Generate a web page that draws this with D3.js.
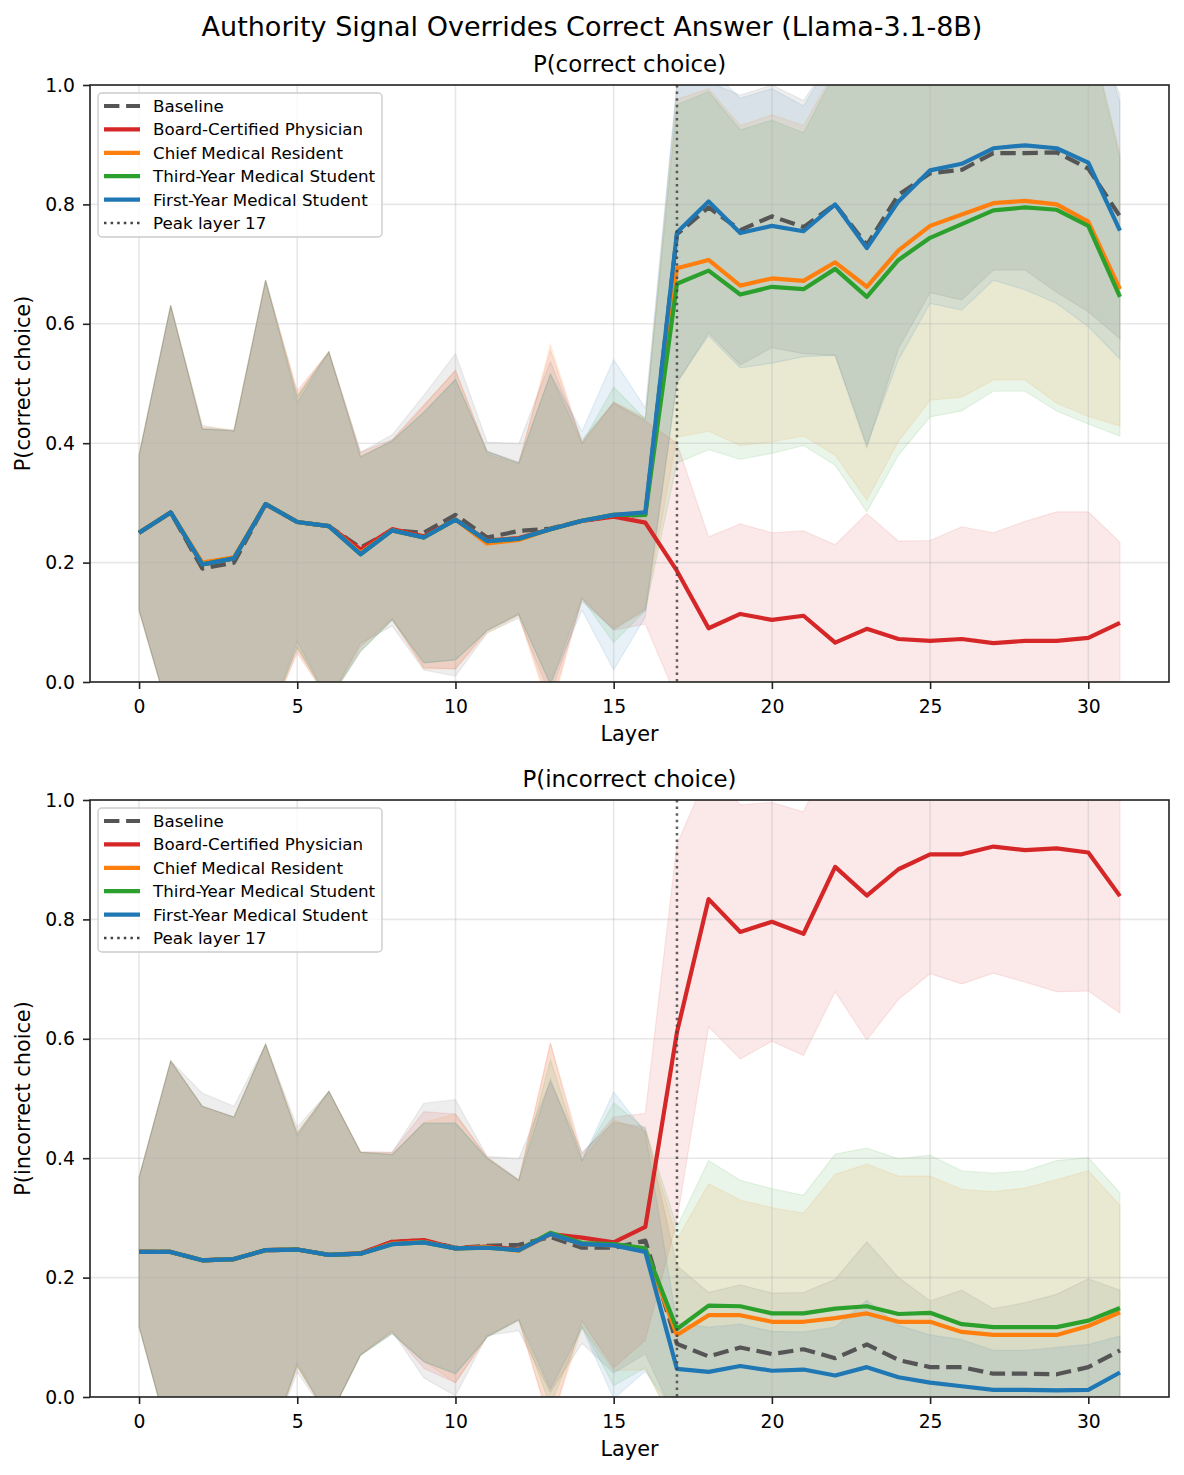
<!DOCTYPE html>
<html>
<head>
<meta charset="utf-8">
<script src="https://cdn.jsdelivr.net/npm/d3@7"></script>
<style>
  body { margin: 0; background: #fff; }
  text { font-family: "DejaVu Sans", sans-serif; fill: #000; }
</style>
</head>
<body>
<svg id="fig" width="1184" height="1475"></svg>
<script>
"use strict";

const layers = [0, 1, 2, 3, 4, 5, 6, 7, 8, 9, 10, 11, 12, 13, 14, 15,
  16, 17, 18, 19, 20, 21, 22, 23, 24, 25, 26, 27, 28, 29, 30, 31];
const xTicks = [0, 5, 10, 15, 20, 25, 30];
const yTicks = [0, 0.2, 0.4, 0.6, 0.8, 1.0];
const peakLayer = 17;

const seriesNames = ["Baseline", "Board-Certified Physician", "Chief Medical Resident",
  "Third-Year Medical Student", "First-Year Medical Student"];
const seriesColors = ["#555555", "#d62728", "#ff7f0e", "#2ca02c", "#1f77b4"];

// P(correct choice): mean and std per layer
const corrBaseline = [0.25, 0.284, 0.19, 0.2, 0.298, 0.268, 0.261, 0.225, 0.254, 0.25, 0.28, 0.242, 0.253, 0.257, 0.27, 0.278, 0.28,
  0.75, 0.795, 0.757, 0.78, 0.762, 0.80, 0.732, 0.816, 0.852, 0.858, 0.886, 0.886, 0.887, 0.86, 0.78];
const corrBaselineSd = [0.13, 0.347, 0.24, 0.22, 0.375, 0.21, 0.292, 0.16, 0.16, 0.23, 0.27, 0.16, 0.146, 0.28, 0.135, 0.19, 0.16,
  0.25, 0.21, 0.226, 0.22, 0.212, 0.253, 0.34, 0.257, 0.2, 0.218, 0.196, 0.196, 0.234, 0.24, 0.205];
const corrBoard = [0.25, 0.284, 0.197, 0.207, 0.298, 0.268, 0.261, 0.222, 0.256, 0.244, 0.272, 0.237, 0.241, 0.256, 0.27, 0.277, 0.267,
  0.186, 0.09, 0.114, 0.104, 0.111, 0.066, 0.089, 0.072, 0.069, 0.072, 0.065, 0.069, 0.069, 0.074, 0.099];
const corrBoardSd = [0.13, 0.347, 0.227, 0.214, 0.375, 0.22, 0.292, 0.163, 0.15, 0.22, 0.25, 0.15, 0.127, 0.3, 0.13, 0.19, 0.17,
  0.214, 0.153, 0.151, 0.146, 0.142, 0.164, 0.193, 0.164, 0.168, 0.188, 0.185, 0.2, 0.216, 0.211, 0.135];
const corrChief = [0.25, 0.284, 0.2, 0.209, 0.298, 0.268, 0.261, 0.216, 0.254, 0.242, 0.272, 0.232, 0.238, 0.256, 0.27, 0.28, 0.283,
  0.693, 0.707, 0.664, 0.676, 0.672, 0.703, 0.662, 0.723, 0.764, 0.783, 0.802, 0.806, 0.80, 0.771, 0.658];
const corrChiefSd = [0.13, 0.347, 0.227, 0.214, 0.375, 0.215, 0.292, 0.163, 0.15, 0.22, 0.25, 0.15, 0.127, 0.31, 0.13, 0.19, 0.16,
  0.283, 0.287, 0.268, 0.274, 0.26, 0.323, 0.357, 0.32, 0.292, 0.306, 0.296, 0.30, 0.333, 0.326, 0.229];
const corrThird = [0.25, 0.284, 0.197, 0.207, 0.298, 0.268, 0.261, 0.214, 0.254, 0.242, 0.272, 0.236, 0.24, 0.256, 0.27, 0.28, 0.28,
  0.667, 0.689, 0.649, 0.662, 0.658, 0.692, 0.645, 0.707, 0.744, 0.767, 0.79, 0.795, 0.791, 0.764, 0.645];
const corrThirdSd = [0.13, 0.347, 0.227, 0.214, 0.375, 0.21, 0.292, 0.163, 0.15, 0.21, 0.235, 0.15, 0.127, 0.26, 0.13, 0.214, 0.16,
  0.30, 0.30, 0.276, 0.279, 0.262, 0.329, 0.36, 0.327, 0.30, 0.313, 0.303, 0.308, 0.337, 0.332, 0.233];
const corrFirst = [0.25, 0.284, 0.197, 0.207, 0.298, 0.268, 0.261, 0.214, 0.254, 0.242, 0.272, 0.236, 0.24, 0.256, 0.27, 0.28, 0.284,
  0.753, 0.805, 0.752, 0.764, 0.755, 0.80, 0.727, 0.805, 0.857, 0.868, 0.894, 0.899, 0.894, 0.87, 0.756];
const corrFirstSd = [0.13, 0.347, 0.227, 0.214, 0.375, 0.2, 0.292, 0.163, 0.15, 0.21, 0.235, 0.15, 0.127, 0.26, 0.15, 0.26, 0.175,
  0.25, 0.225, 0.226, 0.23, 0.21, 0.253, 0.33, 0.265, 0.223, 0.245, 0.221, 0.242, 0.26, 0.275, 0.215];

// P(incorrect choice): mean and std per layer
const incBaseline = [0.243, 0.243, 0.229, 0.231, 0.246, 0.247, 0.238, 0.24, 0.26, 0.262, 0.25, 0.253, 0.255, 0.268, 0.25, 0.25, 0.262,
  0.089, 0.068, 0.083, 0.072, 0.08, 0.065, 0.088, 0.062, 0.05, 0.05, 0.039, 0.039, 0.038, 0.05, 0.078];
const incBaselineSd = [0.125, 0.32, 0.28, 0.256, 0.345, 0.205, 0.274, 0.17, 0.15, 0.23, 0.248, 0.15, 0.144, 0.26, 0.16, 0.21, 0.19,
  0.131, 0.107, 0.105, 0.102, 0.095, 0.132, 0.172, 0.138, 0.111, 0.129, 0.109, 0.119, 0.134, 0.148, 0.101];
const incBoard = [0.243, 0.243, 0.229, 0.231, 0.246, 0.247, 0.238, 0.241, 0.26, 0.263, 0.249, 0.252, 0.247, 0.273, 0.267, 0.259, 0.285,
  0.611, 0.834, 0.779, 0.796, 0.776, 0.888, 0.84, 0.884, 0.909, 0.909, 0.922, 0.916, 0.919, 0.912, 0.839];
const incBoardSd = [0.125, 0.32, 0.258, 0.238, 0.345, 0.195, 0.274, 0.17, 0.15, 0.215, 0.225, 0.15, 0.117, 0.32, 0.14, 0.21, 0.19,
  0.315, 0.214, 0.213, 0.2, 0.204, 0.209, 0.242, 0.218, 0.2, 0.217, 0.212, 0.221, 0.24, 0.232, 0.196];
const incChief = [0.243, 0.243, 0.229, 0.231, 0.246, 0.247, 0.238, 0.24, 0.257, 0.26, 0.249, 0.251, 0.245, 0.273, 0.256, 0.254, 0.246,
  0.104, 0.137, 0.137, 0.126, 0.126, 0.132, 0.14, 0.126, 0.126, 0.109, 0.104, 0.104, 0.104, 0.119, 0.142];
const incChiefSd = [0.125, 0.32, 0.258, 0.238, 0.345, 0.195, 0.274, 0.17, 0.15, 0.2, 0.225, 0.15, 0.117, 0.32, 0.14, 0.21, 0.2,
  0.16, 0.22, 0.193, 0.191, 0.182, 0.241, 0.25, 0.244, 0.244, 0.239, 0.24, 0.246, 0.26, 0.26, 0.179];
const incThird = [0.243, 0.243, 0.229, 0.231, 0.246, 0.247, 0.238, 0.24, 0.256, 0.259, 0.249, 0.25, 0.246, 0.275, 0.258, 0.256, 0.249,
  0.114, 0.153, 0.152, 0.14, 0.14, 0.148, 0.152, 0.139, 0.141, 0.122, 0.117, 0.117, 0.117, 0.128, 0.149];
const incThirdSd = [0.125, 0.32, 0.258, 0.238, 0.345, 0.195, 0.274, 0.17, 0.15, 0.2, 0.21, 0.15, 0.117, 0.29, 0.14, 0.237, 0.2,
  0.171, 0.243, 0.211, 0.209, 0.198, 0.259, 0.265, 0.26, 0.264, 0.257, 0.258, 0.262, 0.279, 0.273, 0.193];
const incFirst = [0.243, 0.243, 0.229, 0.231, 0.246, 0.247, 0.238, 0.24, 0.256, 0.259, 0.249, 0.25, 0.246, 0.273, 0.256, 0.254, 0.243,
  0.047, 0.042, 0.052, 0.044, 0.046, 0.036, 0.05, 0.033, 0.024, 0.018, 0.012, 0.012, 0.011, 0.012, 0.041];
const incFirstSd = [0.125, 0.32, 0.258, 0.238, 0.345, 0.19, 0.274, 0.17, 0.15, 0.2, 0.21, 0.15, 0.117, 0.26, 0.14, 0.257, 0.2,
  0.077, 0.075, 0.07, 0.066, 0.063, 0.081, 0.112, 0.087, 0.08, 0.078, 0.066, 0.066, 0.072, 0.076, 0.061];

const W = 1184, H = 1475;
const axLeft = 90, axRight = 1169, axH = 597;

const svg = d3.select("svg#fig");
svg.append("rect").attr("width", W).attr("height", H).attr("fill", "#fff");

svg.append("text")
  .attr("x", W / 2).attr("y", 36)
  .attr("text-anchor", "middle")
  .style("font-size", "27px")
  .text("Authority Signal Overrides Correct Answer (Llama-3.1-8B)");

drawPanel(85, "P(correct choice)", "panelA",
  [corrBaseline, corrBoard, corrChief, corrThird, corrFirst],
  [corrBaselineSd, corrBoardSd, corrChiefSd, corrThirdSd, corrFirstSd]);

drawPanel(800, "P(incorrect choice)", "panelB",
  [incBaseline, incBoard, incChief, incThird, incFirst],
  [incBaselineSd, incBoardSd, incChiefSd, incThirdSd, incFirstSd]);

function drawPanel(top, label, id, means, sds) {
  let bottom = top + axH;
  let x = d3.scaleLinear().domain([-1.55, 32.55]).range([axLeft, axRight]);
  let y = d3.scaleLinear().domain([0, 1]).range([bottom, top]);

  let g = svg.append("g").attr("id", id);

  g.append("clipPath").attr("id", id + "_clip")
    .append("rect")
    .attr("x", axLeft).attr("y", top)
    .attr("width", axRight - axLeft).attr("height", axH);

  let plot = g.append("g").attr("clip-path", `url(#${id}_clip)`);

  // bands (mean +/- std), drawn under everything else
  let band = d3.area()
    .x((d) => x(d.layer))
    .y0((d) => y(d.m - d.s))
    .y1((d) => y(d.m + d.s));

  means.forEach((m, k) => {
    let rows = layers.map((l, i) => ({ layer: l, m: m[i], s: sds[k][i] }));
    plot.append("path")
      .attr("d", band(rows))
      .attr("fill", seriesColors[k])
      .attr("fill-opacity", 0.1)
      .attr("stroke", seriesColors[k])
      .attr("stroke-opacity", 0.1)
      .attr("stroke-width", 1.2);
  });

  // grid
  plot.selectAll(".gx").data(xTicks).enter().append("line")
    .attr("x1", (d) => x(d)).attr("x2", (d) => x(d))
    .attr("y1", top).attr("y2", bottom)
    .attr("stroke", "#b0b0b0").attr("stroke-opacity", 0.3).attr("stroke-width", 1.6);
  plot.selectAll(".gy").data(yTicks).enter().append("line")
    .attr("x1", axLeft).attr("x2", axRight)
    .attr("y1", (d) => y(d)).attr("y2", (d) => y(d))
    .attr("stroke", "#b0b0b0").attr("stroke-opacity", 0.3).attr("stroke-width", 1.6);

  // mean lines
  let line = d3.line().x((d) => x(d.layer)).y((d) => y(d.m));
  means.forEach((m, k) => {
    let rows = layers.map((l, i) => ({ layer: l, m: m[i] }));
    plot.append("path")
      .attr("d", line(rows))
      .attr("fill", "none")
      .attr("stroke", seriesColors[k])
      .attr("stroke-width", 4.2)
      .attr("stroke-linejoin", "round")
      .attr("stroke-dasharray", k == 0 ? "15.4,6.7" : null);
  });

  // peak layer marker
  plot.append("line")
    .attr("x1", x(peakLayer)).attr("x2", x(peakLayer))
    .attr("y1", top).attr("y2", bottom)
    .attr("stroke", "#444").attr("stroke-opacity", 0.85)
    .attr("stroke-width", 2.5).attr("stroke-dasharray", "2.5,4.1");

  // axes
  let xAxis = g.append("g")
    .attr("transform", `translate(0,${bottom})`)
    .call(d3.axisBottom(x).tickValues(xTicks).tickSize(7).tickPadding(10.7).tickFormat(d3.format("d")));
  let yAxis = g.append("g")
    .attr("transform", `translate(${axLeft},0)`)
    .call(d3.axisLeft(y).tickValues(yTicks).tickSize(7).tickPadding(8).tickFormat(d3.format(".1f")));
  [xAxis, yAxis].forEach((a) => {
    a.select(".domain").remove();
    a.selectAll(".tick line").attr("stroke", "#222").attr("stroke-width", 1.6);
    a.selectAll(".tick text")
      .style("font-size", "18.75px")
      .style("font-family", "'DejaVu Sans', sans-serif")
      .attr("fill", "#000");
  });

  g.append("rect")
    .attr("x", axLeft).attr("y", top)
    .attr("width", axRight - axLeft).attr("height", axH)
    .attr("fill", "none").attr("stroke", "#222").attr("stroke-width", 1.6);

  // titles
  g.append("text")
    .attr("x", (axLeft + axRight) / 2).attr("y", top - 13)
    .attr("text-anchor", "middle")
    .style("font-size", "22.9px")
    .text(label);
  g.append("text")
    .attr("x", (axLeft + axRight) / 2).attr("y", bottom + 59)
    .attr("text-anchor", "middle")
    .style("font-size", "20.8px")
    .text("Layer");
  g.append("text")
    .attr("transform", `translate(30,${(top + bottom) / 2}) rotate(-90)`)
    .attr("text-anchor", "middle")
    .style("font-size", "20.8px")
    .text(label);

  // legend
  let leg = g.append("g").attr("transform", `translate(98,${top + 8})`);
  leg.append("rect")
    .attr("width", 284).attr("height", 144).attr("rx", 4)
    .attr("fill", "#fff").attr("fill-opacity", 0.8)
    .attr("stroke", "#cccccc").attr("stroke-width", 1.4);

  let entries = seriesNames.map((n, k) => ({ name: n, color: seriesColors[k], dash: k == 0 ? "15.4,6.7" : null, w: 4.2 }));
  entries.push({ name: `Peak layer ${peakLayer}`, color: "#444", dash: "2.5,4.1", w: 2.5 });

  let rows = leg.selectAll(".entry").data(entries).enter().append("g")
    .attr("class", "entry")
    .attr("transform", (d, i) => `translate(0,${13 + i * 23.4})`);
  rows.append("line")
    .attr("x1", 6).attr("x2", 42).attr("y1", 0).attr("y2", 0)
    .attr("stroke", (d) => d.color)
    .attr("stroke-width", (d) => d.w)
    .attr("stroke-dasharray", (d) => d.dash);
  rows.append("text")
    .attr("x", 55).attr("y", 0)
    .attr("dominant-baseline", "central")
    .style("font-size", "16.7px")
    .text((d) => d.name);
}
</script>
</body>
</html>
